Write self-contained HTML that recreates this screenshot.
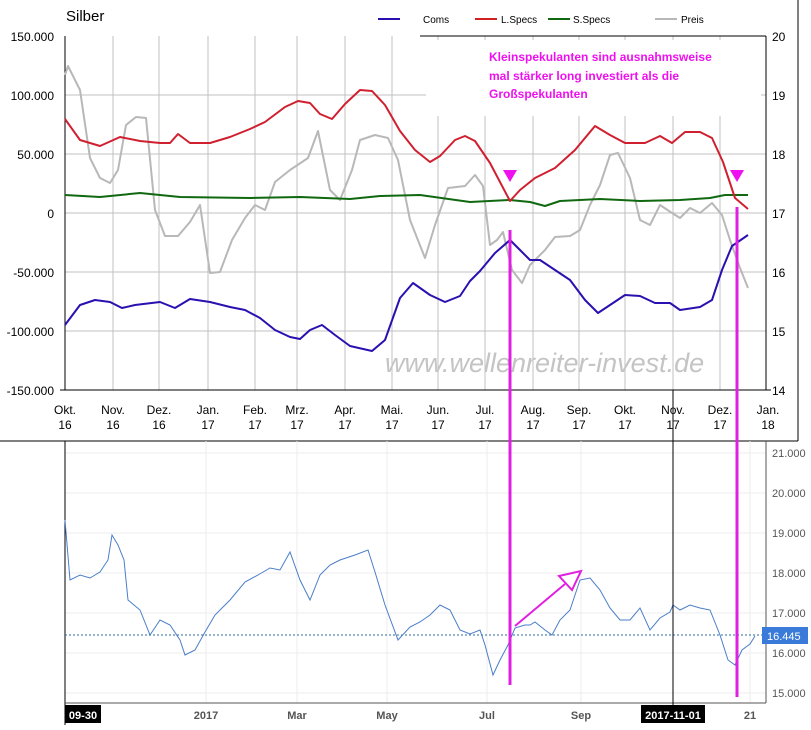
<!DOCTYPE html>
<html><head><meta charset="utf-8"><style>
body{margin:0;background:#fff;width:811px;height:725px;overflow:hidden;font-family:"Liberation Sans",sans-serif}
</style></head><body>
<svg width="811" height="725" xmlns="http://www.w3.org/2000/svg" font-family="Liberation Sans, sans-serif">
<rect width="811" height="725" fill="#fff"/>
<g stroke="#c0c0c0" stroke-width="1">
<line x1="113" y1="36" x2="113" y2="390"/><line x1="159" y1="36" x2="159" y2="390"/><line x1="208" y1="36" x2="208" y2="390"/><line x1="255" y1="36" x2="255" y2="390"/><line x1="297" y1="36" x2="297" y2="390"/><line x1="345" y1="36" x2="345" y2="390"/><line x1="392" y1="36" x2="392" y2="390"/><line x1="438" y1="36" x2="438" y2="390"/><line x1="485" y1="36" x2="485" y2="390"/><line x1="533" y1="36" x2="533" y2="390"/><line x1="579" y1="36" x2="579" y2="390"/><line x1="625" y1="36" x2="625" y2="390"/><line x1="673" y1="36" x2="673" y2="390"/><line x1="720" y1="36" x2="720" y2="390"/>
<line x1="65" y1="95" x2="766" y2="95"/><line x1="65" y1="154" x2="766" y2="154"/><line x1="65" y1="213" x2="766" y2="213"/><line x1="65" y1="272" x2="766" y2="272"/><line x1="65" y1="331" x2="766" y2="331"/>
</g>
<rect x="426" y="40" width="335" height="76" fill="#fff"/>
<line x1="420" y1="36" x2="766" y2="36" stroke="#000"/>
<line x1="65" y1="36" x2="65" y2="390" stroke="#000"/>
<line x1="766" y1="36" x2="766" y2="390" stroke="#000"/>
<line x1="60" y1="390" x2="771" y2="390" stroke="#000"/>
<g font-size="12" fill="#000" text-anchor="end">
<text x="54" y="41">150.000</text><text x="54" y="100">100.000</text><text x="54" y="159">50.000</text><text x="54" y="218">0</text><text x="54" y="277">-50.000</text><text x="54" y="336">-100.000</text><text x="54" y="395">-150.000</text>
</g>
<g font-size="12" fill="#000">
<text x="772" y="41">20</text><text x="772" y="100">19</text><text x="772" y="159">18</text><text x="772" y="218">17</text><text x="772" y="277">16</text><text x="772" y="336">15</text><text x="772" y="395">14</text>
</g>
<text x="66" y="21" font-size="15" fill="#000">Silber</text>
<g font-size="10" fill="#000">
<line x1="378" y1="19" x2="400" y2="19" stroke="#2a10b0" stroke-width="2"/><text x="423" y="23">Coms</text>
<line x1="475" y1="19" x2="497" y2="19" stroke="#d02020" stroke-width="2"/><text x="501" y="23">L.Specs</text>
<line x1="548" y1="19" x2="570" y2="19" stroke="#106810" stroke-width="2"/><text x="573" y="23">S.Specs</text>
<line x1="655" y1="19" x2="677" y2="19" stroke="#b8b8b8" stroke-width="2"/><text x="681" y="23">Preis</text>
</g>
<g font-size="12" fill="#000" text-anchor="middle">
<text x="65" y="414">Okt.</text><text x="65" y="429">16</text>
<text x="113" y="414">Nov.</text><text x="113" y="429">16</text>
<text x="159" y="414">Dez.</text><text x="159" y="429">16</text>
<text x="208" y="414">Jan.</text><text x="208" y="429">17</text>
<text x="255" y="414">Feb.</text><text x="255" y="429">17</text>
<text x="297" y="414">Mrz.</text><text x="297" y="429">17</text>
<text x="345" y="414">Apr.</text><text x="345" y="429">17</text>
<text x="392" y="414">Mai.</text><text x="392" y="429">17</text>
<text x="438" y="414">Jun.</text><text x="438" y="429">17</text>
<text x="485" y="414">Jul.</text><text x="485" y="429">17</text>
<text x="533" y="414">Aug.</text><text x="533" y="429">17</text>
<text x="579" y="414">Sep.</text><text x="579" y="429">17</text>
<text x="625" y="414">Okt.</text><text x="625" y="429">17</text>
<text x="673" y="414">Nov.</text><text x="673" y="429">17</text>
<text x="720" y="414">Dez.</text><text x="720" y="429">17</text>
<text x="768" y="414">Jan.</text><text x="768" y="429">18</text>
</g>
<line x1="0" y1="441" x2="798" y2="441" stroke="#000"/>
<line x1="798" y1="0" x2="798" y2="441" stroke="#000"/>
<text x="385" y="372" font-size="27" font-style="italic" fill="#c4c4c4">www.wellenreiter-invest.de</text>
<g fill="#ee10ee" font-size="12" font-weight="bold">
<text x="489" y="61">Kleinspekulanten sind ausnahmsweise</text>
<text x="489" y="80">mal stärker long investiert als die</text>
<text x="489" y="98">Großspekulanten</text>
</g>
<g fill="none" stroke-width="2" stroke-linejoin="round">
<polyline stroke="#b8b8b8" points="65,75 68,66 80,90 90,158 100,178 110,183 118,170 126,125 136,117 146,118 155,210 165,236 178,236 190,222 200,205 210,273 220,272 232,240 245,218 255,205 265,210 275,182 290,170 308,158 318,131 330,190 340,200 352,170 360,140 375,135 388,138 398,160 410,220 425,258 435,225 448,188 465,186 475,175 483,186 490,245 497,240 503,232 512,270 522,283 530,265 545,250 555,237 570,236 580,230 590,205 600,185 610,155 618,153 630,178 640,220 650,225 660,205 672,213 680,218 690,208 700,213 712,203 722,215 730,240 740,268 748,288"/>
<polyline stroke="#106810" points="65,195 100,197 140,193 180,197 250,198 300,197 350,199 380,196 420,195 470,202 510,200 530,202 545,206 560,201 600,199 640,201 680,200 710,198 725,195 748,195"/>
<polyline stroke="#d02030" points="65,119 80,140 100,146 120,137 140,141 160,143 170,143 178,134 190,143 210,143 230,137 250,129 265,122 285,107 298,101 310,103 320,114 332,119 345,104 360,90 372,91 385,105 400,131 415,150 430,162 440,156 455,140 465,136 475,141 490,163 510,201 520,190 535,178 555,168 575,150 595,126 610,135 625,143 645,143 660,136 672,143 685,132 700,132 712,138 723,162 735,198 748,209"/>
<polyline stroke="#2a10b0" points="65,325 80,305 95,300 110,302 122,308 135,305 160,302 175,308 190,299 210,302 230,307 245,310 260,318 275,330 290,337 300,339 310,330 322,325 335,335 350,346 372,351 385,340 400,298 413,283 430,295 445,302 460,296 470,281 480,271 495,253 510,240 520,250 530,260 540,260 555,270 570,280 585,300 598,313 610,305 625,295 640,296 655,303 670,303 680,310 700,307 712,300 722,270 732,246 748,235"/>
</g>
<g stroke="#eeeeee">
<line x1="65" y1="453" x2="766" y2="453"/><line x1="65" y1="493" x2="766" y2="493"/><line x1="65" y1="533" x2="766" y2="533"/><line x1="65" y1="573" x2="766" y2="573"/><line x1="65" y1="613" x2="766" y2="613"/><line x1="65" y1="653" x2="766" y2="653"/><line x1="65" y1="693" x2="766" y2="693"/>
<line x1="206" y1="441" x2="206" y2="703"/><line x1="297" y1="441" x2="297" y2="703"/><line x1="387" y1="441" x2="387" y2="703"/><line x1="487" y1="441" x2="487" y2="703"/><line x1="581" y1="441" x2="581" y2="703"/><line x1="750" y1="441" x2="750" y2="703"/>
</g>
<line x1="65" y1="441" x2="65" y2="725" stroke="#000"/>
<line x1="766" y1="441" x2="766" y2="703" stroke="#555"/>
<line x1="65" y1="703" x2="766" y2="703" stroke="#555"/>
<line x1="65" y1="635" x2="766" y2="635" stroke="#2a6aa0" stroke-dasharray="2,2"/>
<g font-size="11" fill="#555">
<text x="772" y="457">21.000</text><text x="772" y="497">20.000</text><text x="772" y="537">19.000</text><text x="772" y="577">18.000</text><text x="772" y="617">17.000</text><text x="772" y="657">16.000</text><text x="772" y="697">15.000</text>
</g>
<rect x="762" y="627" width="46" height="17" fill="#3a7ad8"/>
<text x="767" y="640" font-size="11" fill="#fff">16.445</text>
<polyline fill="none" stroke="#4a7ec8" stroke-width="1" points="65,520 70,580 80,575 90,578 100,572 108,560 112,535 118,545 124,560 128,600 140,610 150,635 160,620 170,625 180,640 185,655 195,650 205,632 215,615 230,600 245,582 258,575 270,568 280,570 290,552 300,580 310,600 320,575 330,565 340,560 355,555 368,550 375,572 385,605 398,640 410,627 420,622 430,615 440,605 450,610 460,630 470,634 480,630 485,645 493,675 500,660 508,645 515,628 525,625 530,625 535,622 545,630 552,635 560,620 570,610 580,580 590,578 600,590 610,608 620,620 630,620 640,608 650,630 660,618 670,612 673,605 680,610 690,605 700,608 710,610 720,635 728,660 735,665 742,650 750,644 755,636"/>
<g font-size="11" fill="#555" font-weight="bold" text-anchor="middle">
<text x="206" y="719">2017</text><text x="297" y="719">Mar</text><text x="387" y="719">May</text><text x="487" y="719">Jul</text><text x="581" y="719">Sep</text><text x="750" y="719">21</text>
</g>
<rect x="65" y="705" width="36" height="18" fill="#000"/>
<text x="83" y="719" font-size="11" fill="#fff" font-weight="bold" text-anchor="middle">09-30</text>
<rect x="641" y="705" width="64" height="18" fill="#000"/>
<text x="673" y="719" font-size="11" fill="#fff" font-weight="bold" text-anchor="middle">2017-11-01</text>
<line x1="673" y1="390" x2="673" y2="705" stroke="#000"/>
<g stroke="#e020e0" stroke-width="3">
<line x1="510" y1="230" x2="510" y2="685"/>
<line x1="737" y1="207" x2="737" y2="697"/>
</g>
<polygon points="503,170 517,170 510,182" fill="#ee10ee"/>
<polygon points="730,170 744,170 737,182" fill="#ee10ee"/>
<line x1="515" y1="626" x2="565" y2="584" stroke="#e020e0" stroke-width="2"/>
<polygon points="559,576 581,571 572,590" fill="#fff" stroke="#e020e0" stroke-width="2"/>
</svg>
</body></html>
